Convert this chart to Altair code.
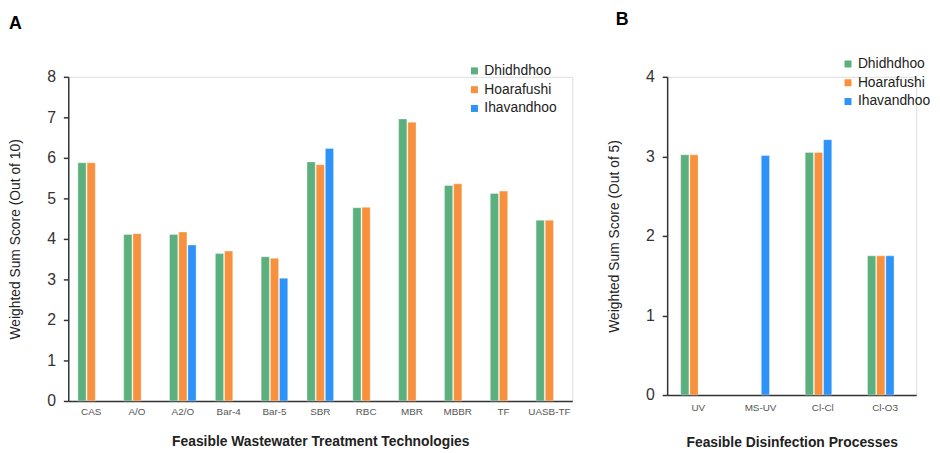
import altair as alt
import pandas as pd

series = ["Dhidhdhoo", "Hoarafushi", "Ihavandhoo"]
colors = ["#5BB07E", "#F7913D", "#2D93F8"]

tech = ["CAS", "A/O", "A2/O", "Bar-4", "Bar-5", "SBR", "RBC", "MBR", "MBBR", "TF", "UASB-TF"]
tech_dhi = [5.88, 4.11, 4.11, 3.64, 3.56, 5.90, 4.77, 6.96, 5.32, 5.12, 4.46]
tech_hoa = [5.88, 4.13, 4.17, 3.70, 3.52, 5.83, 4.78, 6.88, 5.36, 5.18, 4.46]
tech_iha = [None, None, 3.85, None, 3.03, 6.23, None, None, None, None, None]

dis = ["UV", "MS-UV", "Cl-Cl", "Cl-O3"]
dis_dhi = [3.02, None, 3.05, 1.75]
dis_hoa = [3.02, None, 3.05, 1.75]
dis_iha = [None, 3.01, 3.21, 1.75]


def long_df(cats, vals):
    rows = []
    for s, v in zip(series, vals):
        for c, x in zip(cats, v):
            if x is not None:
                rows.append({"cat": c, "series": s, "value": x})
    return pd.DataFrame(rows)


df_a = long_df(tech, [tech_dhi, tech_hoa, tech_iha])
df_b = long_df(dis, [dis_dhi, dis_hoa, dis_iha])

FONT = "Liberation Sans"


def panel(df, cats, ymax, ytitle, xtitle, letter, w, h, pin, pout, offpad,
          lx, ly, dx, toff, xlabpad, xtitlepad):
    color = alt.Color(
        "series:N",
        scale=alt.Scale(domain=series, range=colors),
        legend=alt.Legend(
            title=None, orient="none", legendX=lx, legendY=ly,
            symbolType="square", symbolSize=50, symbolStrokeWidth=0,
            labelFontSize=14, labelFont=FONT, labelColor="#222",
            rowPadding=5, labelOffset=3, padding=0,
        ),
    )
    return (
        alt.Chart(df)
        .mark_bar(stroke="white", strokeWidth=0.6, strokeOpacity=0.6)
        .encode(
            x=alt.X(
                "cat:N", sort=cats,
                scale=alt.Scale(domain=cats, paddingInner=pin, paddingOuter=pout),
                axis=alt.Axis(
                    title=xtitle, labelAngle=0, ticks=False,
                    labelFontSize=10, labelColor="#555", labelFont=FONT,
                    labelPadding=xlabpad, titleFontSize=14, titleFontWeight="bold",
                    titleFont=FONT, titleColor="#222", titlePadding=xtitlepad,
                    domainColor="#333", domainWidth=1.5,
                ),
            ),
            xOffset=alt.XOffset(
                "series:N",
                scale=alt.Scale(domain=series, paddingInner=offpad, paddingOuter=0.05),
            ),
            y=alt.Y(
                "value:Q",
                scale=alt.Scale(domain=[0, ymax], nice=False),
                axis=alt.Axis(
                    title=ytitle, values=list(range(0, ymax + 1)), grid=False,
                    labelFontSize=16, labelColor="#333", labelFont=FONT,
                    labelPadding=8, tickSize=5, tickColor="#333", tickWidth=1.5,
                    titleFontSize=14, titleFontWeight="normal", titleFont=FONT,
                    titleColor="#222", titlePadding=24,
                    domainColor="#333", domainWidth=1.5,
                ),
            ),
            color=color,
        )
        .properties(
            width=w, height=h,
            title=alt.TitleParams(
                letter, anchor="start", frame="group", dx=dx, fontSize=18,
                font=FONT, fontWeight="bold", color="#000", offset=toff,
            ),
        )
    )


a = panel(df_a, tech, 8, "Weighted Sum Score (Out of 10)",
          "Feasible Wastewater Treatment Technologies", "A",
          510, 328, 0.4, 0.2, 0.1, 404, -13, -60, 31, 6, 18)
b = panel(df_b, dis, 4, "Weighted Sum Score (Out of 5)",
          "Feasible Disinfection Processes", "B",
          252, 322, 0.42, 0.21, 0.2, 176, -20, -52, 28, 8, 23)

chart = (
    alt.hconcat(a, b, spacing=34)
    .resolve_scale(color="independent")
    .properties(padding={"left": 0, "top": 0, "right": 0, "bottom": 0})
    .configure_view(stroke=None)
    .configure(background="white")
)

chart.save("out.html", embed_options={"renderer": "svg", "actions": False})
